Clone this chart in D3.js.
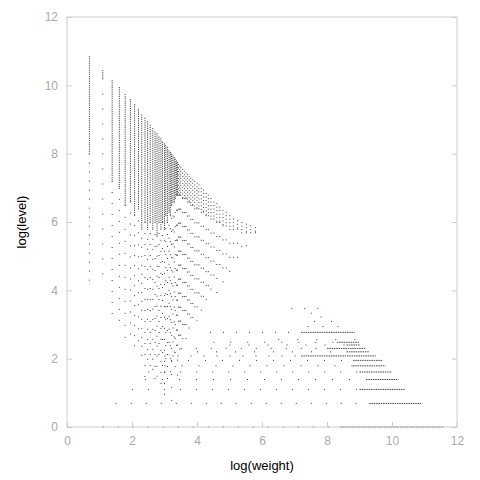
<!DOCTYPE html>
<html><head><meta charset="utf-8">
<script src="https://cdn.jsdelivr.net/npm/d3@7"></script>
<style>body{margin:0;background:#fff}</style>
</head><body><div id="chart"></div>
<script>
// vertical columns: [logWeight, top, denseBottom, dottedBottom, gap]
const columns = [
  [0.69,10.85,8.0,4.2,8],[1.10,10.45,10.2,4.4,14],[1.39,10.15,7.2,3.1,10],[1.61,9.95,7.0,2.9,10],
  [1.79,9.75,6.5,2.6,11],[1.95,9.6,6.6,2.5,10],[2.08,9.45,6.2,2.1,9],[2.20,9.3,6.4,2.2,11],
  [2.30,9.15,5.8,2.0,8],[2.40,9.05,6.0,1.4,10],[2.48,8.95,5.8,1.8,9],[2.56,8.85,6.0,1.6,10],
  [2.64,8.75,5.8,1.4,9],[2.71,8.65,6.0,1.1,11],[2.77,8.6,5.6,1.4,9],[2.83,8.5,6.0,2.0,10],
  [2.89,8.45,5.8,1.1,10],[2.94,8.35,6.0,1.6,12],[3.00,8.3,5.8,0.7,10],[3.04,8.25,6.2,1.8,12],
  [3.09,8.2,6.0,1.4,11],[3.14,8.1,6.3,2.1,12],[3.18,8.05,6.2,1.6,12],[3.22,8.0,6.5,0.7,12],
  [3.26,7.95,6.6,2.0,13],[3.30,7.9,6.6,1.8,14],[3.33,7.85,6.7,1.4,13],[3.37,7.8,6.8,2.1,14],
  [3.40,7.75,6.8,1.1,14],[3.43,7.7,6.8,2.4,13],[3.47,7.65,6.8,2.0,13],[3.50,7.6,6.8,2.6,13],
  [3.56,7.55,6.7,2.2,13],[3.61,7.5,6.7,2.8,13],[3.66,7.45,6.7,2.5,13],[3.71,7.4,6.6,3.0,13],
  [3.76,7.35,6.6,2.7,13],[3.81,7.3,6.5,3.2,13],[3.87,7.25,6.5,2.9,13],[3.93,7.2,6.4,3.4,13],
  [4.00,7.15,6.4,3.1,13],[4.06,7.1,6.4,3.6,13],[4.13,7.0,6.3,3.3,13],[4.20,6.95,6.3,3.8,13],
  [4.28,6.85,6.2,3.5,13],[4.35,6.8,6.2,4.0,13],[4.43,6.7,6.1,3.7,13],[4.52,6.6,6.1,4.2,13],
  [4.61,6.55,6.0,3.9,13],[4.70,6.45,6.0,4.4,13],[4.80,6.35,5.9,4.1,13],[4.90,6.3,5.9,4.5,13],
  [5.01,6.2,5.8,4.3,13],[5.12,6.1,5.8,4.6,13],[5.25,6.05,5.8,4.8,13],[5.38,6.0,5.7,5.0,13],
  [5.52,5.95,5.7,5.2,12],[5.65,5.9,5.7,5.5,10],[5.80,5.85,5.7,5.6,8]
];
// horizontal rows: [logLevel, dottedStart, solidStart, end, gap]
const rows = [
  [0.00,1.1,8.4,11.6,14],[0.69,1.5,9.3,10.9,14],[1.10,2.0,9.0,10.4,15],[1.39,2.4,9.2,10.2,16],
  [1.61,2.5,9.0,10.0,15],[1.79,3.0,8.8,9.8,16],[1.95,3.2,8.8,9.7,16],[2.08,3.0,7.2,9.5,12],
  [2.20,4.0,8.6,9.3,18],[2.30,3.5,8.0,9.2,14],[2.40,5.0,8.6,9.0,18],[2.48,4.5,8.3,9.0,16],
  [2.56,6.5,8.9,8.9,18],[2.77,4.4,7.2,8.85,12],[2.94,7.4,8.4,8.4,14],[3.09,7.6,8.2,8.2,16],
  [3.22,7.8,8.1,8.1,16],[3.33,7.5,7.9,7.9,18],[3.47,6.9,8.0,8.0,12]
];
const xTicks = [0,2,4,6,8,10,12];
const yTicks = [0,2,4,6,8,10,12];

const m = {left:67, right:23, top:17, bottom:53};
const W = 480, H = 480;
const svg = d3.select("#chart").append("svg").attr("width",W).attr("height",H)
  .style("font-family","Liberation Sans, Arial, sans-serif");
const x = d3.scaleLinear().domain([0,12]).range([m.left, W-m.right]);
const y = d3.scaleLinear().domain([0,12]).range([H-m.bottom, m.top]);

const g = svg.append("g");
// dense parts
g.selectAll(".cs").data(columns).enter().append("line")
  .attr("x1",d=>x(d[0])).attr("x2",d=>x(d[0]))
  .attr("y1",d=>y(d[1])).attr("y2",d=>y(d[2]))
  .attr("stroke","#333").attr("stroke-width",0.9)
  .attr("stroke-dasharray",d=>d[0]>3.4 ? "1,2.5" : "1.2,1");
g.selectAll(".cd").data(columns).enter().append("line")
  .attr("x1",d=>x(d[0])).attr("x2",d=>x(d[0]))
  .attr("y1",d=>y(d[2])).attr("y2",d=>y(d[3]))
  .attr("stroke","#222").attr("stroke-width",0.9)
  .attr("stroke-dasharray",d=>"1,"+d[4]);
g.selectAll(".rs").data(rows).enter().append("line")
  .attr("x1",d=>x(d[2])).attr("x2",d=>x(d[3]))
  .attr("y1",d=>y(d[0])).attr("y2",d=>y(d[0]))
  .attr("stroke","#333").attr("stroke-width",0.9).attr("stroke-dasharray","1.5,0.8");
g.selectAll(".rd").data(rows).enter().append("line")
  .attr("x1",d=>x(d[1])).attr("x2",d=>x(d[2]))
  .attr("y1",d=>y(d[0])).attr("y2",d=>y(d[0]))
  .attr("stroke","#222").attr("stroke-width",0.9)
  .attr("stroke-dasharray",d=>"1,"+d[4]);

// frame and axes
svg.append("rect").attr("x",x(0)).attr("y",y(12)).attr("width",x(12)-x(0)).attr("height",y(0)-y(12))
  .attr("fill","none").attr("stroke","#ccc");
const style = a => { a.select(".domain").remove(); a.selectAll("line").attr("stroke","#ccc");
  a.selectAll("text").attr("fill","#aaa").style("font-size","12px"); };
svg.append("g").attr("transform",`translate(0,${y(0)})`)
  .call(d3.axisBottom(x).tickValues(xTicks).tickSize(-5).tickPadding(9)).call(style);
svg.append("g").attr("transform",`translate(${x(0)},0)`)
  .call(d3.axisLeft(y).tickValues(yTicks).tickSize(-5).tickPadding(9)).call(style);
svg.append("g").attr("transform",`translate(${x(12)},0)`)
  .call(d3.axisRight(y).tickValues(yTicks).tickSize(-5).tickFormat("")).call(style);

svg.append("text").attr("x",(x(0)+x(12))/2).attr("y",470).attr("text-anchor","middle")
  .style("font-size","13px").text("log(weight)");
svg.append("text").attr("transform",`translate(26,${(y(0)+y(12))/2}) rotate(-90)`)
  .attr("text-anchor","middle").style("font-size","13px").text("log(level)");
</script></body></html>
